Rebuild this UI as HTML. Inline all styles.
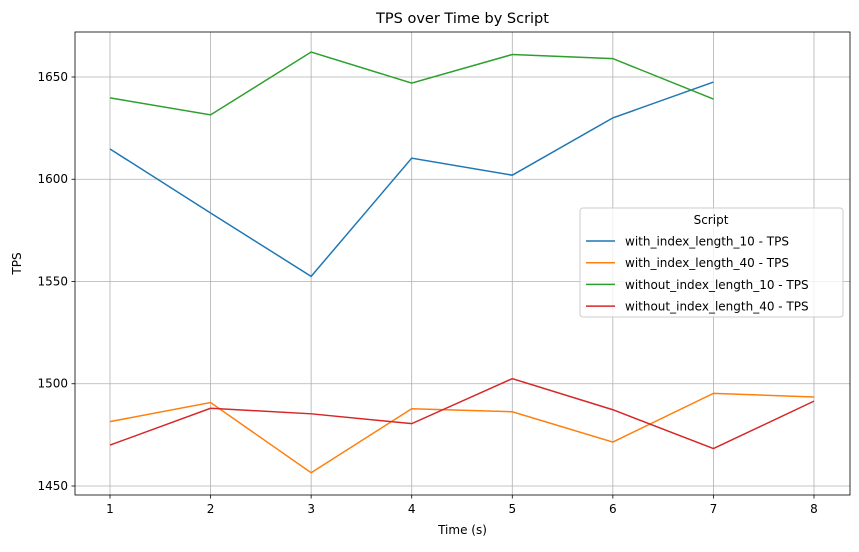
<!DOCTYPE html>
<html><head><meta charset="utf-8"><style>
body{margin:0;background:#fff;font-family:"Liberation Sans","DejaVu Sans",sans-serif}
svg text{font-family:"DejaVu Sans","Liberation Sans",sans-serif}
</style></head><body>
<svg id="chart" width="859" height="547" xmlns="http://www.w3.org/2000/svg"></svg>
<script>
const times=[1,2,3,4,5,6,7,8];
const seriesNames=["with_index_length_10 - TPS","with_index_length_40 - TPS","without_index_length_10 - TPS","without_index_length_40 - TPS"];
const withIndex10=[1614.8,1583.5,1552.5,1610.3,1602,1630,1647.5];
const withIndex40=[1481.5,1490.8,1456.5,1487.8,1486.3,1471.5,1495.3,1493.5];
const withoutIndex10=[1639.8,1631.5,1662.2,1647,1661,1659,1639.2];
const withoutIndex40=[1470,1488,1485.3,1480.5,1502.5,1487.3,1468.3,1491.5];
const yTicks=[1450,1500,1550,1600,1650];
const xTicks=[1,2,3,4,5,6,7,8];
const colors=["#1f77b4","#ff7f0e","#2ca02c","#d62728"];
const allSeries=[withIndex10,withIndex40,withoutIndex10,withoutIndex40];
const L=75,R=850,T=32,B=495;
const xMin=0.652,xMax=8.358,yMin=1445.6,yMax=1672;
const sx=v=>L+(v-xMin)/(xMax-xMin)*(R-L);
const sy=v=>B-(v-yMin)/(yMax-yMin)*(B-T);
const svg=document.getElementById('chart');
const NS="http://www.w3.org/2000/svg";
function mk(tag,attrs,parent){const e=document.createElementNS(NS,tag);for(const k in attrs)e.setAttribute(k,attrs[k]);(parent||svg).appendChild(e);return e;}
// grid
xTicks.forEach(t=>{const l=mk('line',{x1:sx(t),x2:sx(t),y1:T,y2:B,stroke:'#b0b0b0','stroke-width':0.8});


const tk=mk('line',{x1:sx(t),x2:sx(t),y1:B,y2:B+3.5,stroke:'#000','stroke-width':0.8});


const tx=mk('text',{x:sx(t),y:B+18,'text-anchor':'middle','font-size':12});tx.textContent=t;

});
yTicks.forEach(t=>{const l=mk('line',{x1:L,x2:R,y1:sy(t),y2:sy(t),stroke:'#b0b0b0','stroke-width':0.8});


const tk=mk('line',{x1:L-3.5,x2:L,y1:sy(t),y2:sy(t),stroke:'#000','stroke-width':0.8});


const tx=mk('text',{x:L-7,y:sy(t)+4,'text-anchor':'end','font-size':12});tx.textContent=t;

});
// series
allSeries.forEach((s,i)=>{const p=mk('polyline',{points:s.map((v,j)=>sx(times[j])+','+sy(v)).join(' '),fill:'none',stroke:colors[i],'stroke-width':1.5});

});
const fr=mk('rect',{x:L,y:T,width:R-L,height:B-T,fill:'none',stroke:'#000','stroke-width':0.8});


let t=mk('text',{x:(L+R)/2,y:23,'text-anchor':'middle','font-size':14.5});t.textContent='TPS over Time by Script';


t=mk('text',{x:(L+R)/2,y:534,'text-anchor':'middle','font-size':12});t.textContent='Time (s)';


t=mk('text',{x:21,y:(T+B)/2,'text-anchor':'middle','font-size':12,transform:'rotate(-90 21 '+((T+B)/2)+')'});t.textContent='TPS';


// legend
const lg=mk('g',{});


mk('rect',{x:580,y:208,width:263,height:109,rx:3,fill:'#fff','fill-opacity':0.8,stroke:'#ccc'},lg);
t=mk('text',{x:711,y:224,'text-anchor':'middle','font-size':12},lg);t.textContent='Script';


seriesNames.forEach((n,i)=>{const y=241+i*21.7;
const ln=mk('line',{x1:586,x2:615,y1:y,y2:y,stroke:colors[i],'stroke-width':1.5},lg);


const tx=mk('text',{x:625,y:y+4.5,'font-size':12},lg);tx.textContent=n;

});
</script>
</body></html>
